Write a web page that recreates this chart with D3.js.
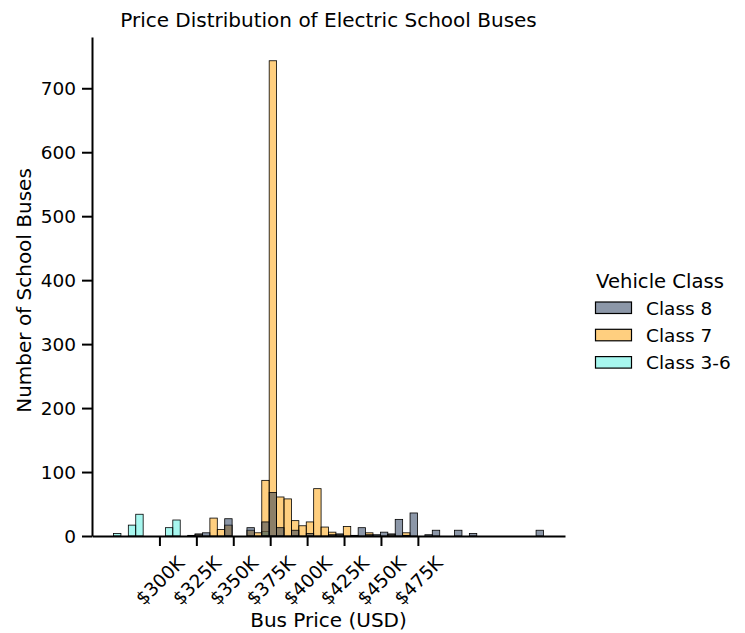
<!DOCTYPE html>
<html>
<head>
<meta charset="utf-8">
<script src="https://cdn.jsdelivr.net/npm/d3@7"></script>
<style>
  html, body { margin: 0; padding: 0; background: #fff; }
  svg { display: block; }
  text { font-family: "DejaVu Sans", sans-serif; fill: #000; }
</style>
</head>
<body>
<svg id="chart" width="745" height="633"></svg>
<script>
// ---- data (counts per 5.02K-wide price bin, in $K, starting at 268.9K) ----
const binStart = 268.9;
const binWidth = 5.02;
const classes = ["Class 8", "Class 7", "Class 3-6"];
const colors  = ["#1a3052", "#ffa000", "#4ff0df"];
const class8 = [0,0,0,0,0,0,0,0,0,0, 1,3,5,0,0,27,0,0,13,0, 22,68,13,0,9,0,4,0,0,2, 3,0,1,13,2,2,6,3,26,1, 36,0,2,9,0,0,9,0,4,0, 0,0,0,0,0,0,0,9];
const class7 = [0,0,0,0,0,0,0,0,0,0, 0,3,0,28,10,17,0,0,9,5, 87,743,61,58,24,16,22,74,14,6, 3,15,0,0,5,0,0,3,0,5, 0,0,0,0,0,0,0,0,0,0, 0,0,0,0,0,0,0,0];
const class36 = [4,0,17,34,0,0,0,13,25,0, 0,0,0,0,0,0,0,0,0,0, 7,0,0,0,0,0,0,0,0,0, 0,0,0,0,0,0,0,0,0,0, 0,0,0,0,0,0,0,0,0,0, 0,0,0,0,0,0,0,0];
const seriesValues = [class8, class7, class36];
const xTicks = [300, 325, 350, 375, 400, 425, 450, 475];
const yTicks = [0, 100, 200, 300, 400, 500, 600, 700];
const chartTitle = "Price Distribution of Electric School Buses";
const xLabel = "Bus Price (USD)";
const yLabel = "Number of School Buses";
const legendTitle = "Vehicle Class";

// ---- layout ----
const svg = d3.select("#chart");
const pLeft = 92, pRight = 565, pTop = 37, pBottom = 536;
const nBins = class8.length;
const dataMin = binStart, dataMax = binStart + nBins * binWidth;
const xPad = (dataMax - dataMin) * 0.05;
const x = d3.scaleLinear().domain([dataMin - xPad, dataMax + xPad]).range([pLeft, pRight]);
const yMax = d3.max(class7) * 1.05;
const y = d3.scaleLinear().domain([0, yMax]).range([pBottom, pTop]);

// bars: draw last hue first (seaborn layer order)
const gBars = svg.append("g");
for (let s = classes.length - 1; s >= 0; s--) {
  const vals = seriesValues[s];
  gBars.append("g").selectAll("rect")
    .data(vals.map((v, i) => ({v, i})))
    .join("rect")
    .attr("x", d => x(binStart + d.i * binWidth))
    .attr("width", d => x(binStart + (d.i + 1) * binWidth) - x(binStart + d.i * binWidth))
    .attr("y", d => y(d.v))
    .attr("height", d => y(0) - y(d.v))
    .attr("fill", colors[s])
    .attr("fill-opacity", 0.5)
    .attr("stroke", "#000")
    .attr("stroke-width", 0.8);
}

// axes
const tickFont = 18.5;
const labelFont = 20;
const xAxis = svg.append("g").attr("transform", `translate(0,${pBottom})`)
  .call(d3.axisBottom(x).tickValues(xTicks).tickSizeInner(10).tickSizeOuter(0).tickFormat(d => "$" + d + "K"));
xAxis.select(".domain").attr("stroke", "#000").attr("stroke-width", 2);
xAxis.selectAll(".tick line").attr("stroke", "#000").attr("stroke-width", 2);
xAxis.selectAll(".tick text").each(function() {
  const t = d3.select(this);
  t.attr("font-size", tickFont).attr("dy", null).attr("y", null)
   .attr("text-anchor", "middle").attr("dominant-baseline", "central");
  const w = this.getComputedTextLength();
  const h = tickFont * 1.16;
  const half = (w + h) * Math.SQRT1_2 / 2;
  t.attr("transform", `translate(0,${10 + 6 + half}) rotate(-45)`);
});

const yAxis = svg.append("g").attr("transform", `translate(${pLeft},0)`)
  .call(d3.axisLeft(y).tickValues(yTicks).tickSizeInner(10).tickSizeOuter(0).tickPadding(6));
yAxis.select(".domain").attr("stroke", "#000").attr("stroke-width", 2);
yAxis.selectAll(".tick line").attr("stroke", "#000").attr("stroke-width", 2);
yAxis.selectAll(".tick text").attr("font-size", tickFont).attr("dy", "0.35em");

// title and labels
svg.append("text").attr("x", (pLeft + pRight) / 2).attr("y", 27)
  .attr("text-anchor", "middle").attr("font-size", labelFont).text(chartTitle);
svg.append("text").attr("x", (pLeft + pRight) / 2).attr("y", 627)
  .attr("text-anchor", "middle").attr("font-size", labelFont).text(xLabel);
svg.append("text").attr("transform", `translate(31,${(pTop + pBottom) / 2 + 4}) rotate(-90)`)
  .attr("text-anchor", "middle").attr("font-size", labelFont).text(yLabel);

// legend
const lg = svg.append("g");
lg.append("text").attr("x", 660).attr("y", 288).attr("text-anchor", "middle")
  .attr("font-size", 19.6).text(legendTitle);
classes.forEach((c, i) => {
  const yy = 302 + i * 27.3;
  lg.append("rect").attr("x", 595.5).attr("y", yy).attr("width", 36).attr("height", 11.5)
    .attr("fill", colors[i]).attr("fill-opacity", 0.5).attr("stroke", "#000").attr("stroke-width", 1.2);
  lg.append("text").attr("x", 646).attr("y", yy + 12.5).attr("font-size", tickFont).text(c);
});
</script>
</body>
</html>
